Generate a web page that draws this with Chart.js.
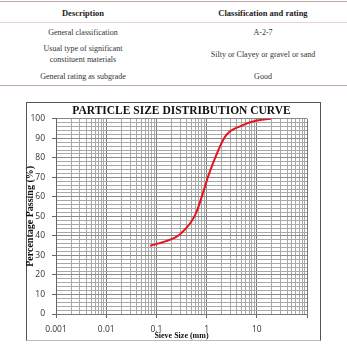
<!DOCTYPE html>
<html>
<head>
<meta charset="utf-8">
<script src="https://cdn.jsdelivr.net/npm/chart.js@4.4.1/dist/chart.umd.min.js"></script>
<style>
  html, body { margin:0; padding:0; background:#fff; width:347px; height:349px; overflow:hidden; }
  .t { position:absolute; font-family:"Liberation Serif", "Times New Roman", serif; font-size:8px; color:#333; text-align:center; line-height:11px; white-space:nowrap; }
  .b { font-weight:bold; color:#222; font-size:8.5px; }
  .line { position:absolute; left:0; width:347px; height:1px; }
  #box { position:absolute; left:26px; top:102px; width:293px; height:237px; border:1px solid #555; border-bottom-color:#bbb; }
  #wrap { position:absolute; left:0; top:95px; width:347px; height:254px; }
</style>
</head>
<body>
<div class="line" style="top:1px;background:#bfa9ab;"></div>
<div class="t b" style="left:23px;width:120px;top:8px;">Description</div>
<div class="t b" style="left:203px;width:120px;top:8px;">Classification and rating</div>
<div class="line" style="top:22px;background:#ead3d6;"></div>
<div class="t" style="left:23px;width:120px;top:27px;">General classification</div>
<div class="t" style="left:203px;width:120px;top:27px;">A-2-7</div>
<div class="t" style="left:23px;width:120px;top:43px;">Usual type of significant<br>constituent materials</div>
<div class="t" style="left:203px;width:120px;top:49px;">Silty or Clayey or gravel or sand</div>
<div class="t" style="left:23px;width:120px;top:71px;">General rating as subgrade</div>
<div class="t" style="left:203px;width:120px;top:71px;">Good</div>
<div class="line" style="top:85px;background:#bfa9ab;"></div>

<div id="box"></div>
<div id="wrap"><canvas id="c" width="347" height="254"></canvas></div>

<script>
const chartTitle = "PARTICLE SIZE DISTRIBUTION CURVE";
const xAxisTitle = "Sieve Size (mm)";
const yAxisTitle = "Percentage Passing (%)";
const sieveSizes = [0.075, 0.15, 0.3, 0.6, 1.18, 2.36, 4.75, 9.5, 19];
const percentPassing = [35, 37.2, 41, 51, 73.5, 91, 96.3, 99, 100];
const xDecades = [0.001, 0.01, 0.1, 1, 10, 100];
const xTickLabels = ["0.001", "0.01", "0.1", "1", "10"];
const yTickLabels = [0, 10, 20, 30, 40, 50, 60, 70, 80, 90, 100];

const isDecade = v => xDecades.some(d => Math.abs(v - d) / d < 1e-6);

new Chart(document.getElementById('c'), {
  type: 'line',
  data: {
    datasets: [{
      data: sieveSizes.map((s, i) => ({x: s, y: percentPassing[i]})),
      borderColor: '#e8141c',
      borderWidth: 2,
      pointRadius: 0,
      fill: false,
      cubicInterpolationMode: 'monotone'
    }]
  },
  options: {
    responsive: false,
    animation: false,
    layout: { padding: { left: 0, right: 40, top: 0, bottom: 0 } },
    plugins: {
      legend: { display: false },
      tooltip: { enabled: false },
      title: {
        display: true,
        text: chartTitle,
        fullSize: false,
        color: '#111',
        font: { family: "'Liberation Serif', serif", size: 11.5, weight: 'bold' },
        padding: { top: 9, bottom: 1 }
      }
    },
    scales: {
      x: {
        type: 'logarithmic',
        min: 0.001,
        max: 100,
        afterBuildTicks: (scale) => {
          const t = [];
          for (let d = 0; d < xDecades.length - 1; d++) {
            for (let k = 1; k <= 9; k++) t.push({ value: +(xDecades[d] * k).toPrecision(6) });
          }
          t.push({ value: xDecades[xDecades.length - 1] });
          scale.ticks = t;
        },
        afterFit: (scale) => { scale.height = 35; },
        ticks: {
          autoSkip: false,
          maxRotation: 0,
          padding: 6,
          color: '#333',
          font: { family: "'Open Sans', sans-serif", size: 8.5 },
          callback: function (value) {
            const i = xDecades.findIndex(d => Math.abs(value - d) / d < 1e-6);
            return (i >= 0 && i < xTickLabels.length) ? xTickLabels[i] : '';
          }
        },
        grid: {
          color: (ctx) => (ctx.tick && isDecade(ctx.tick.value)) ? '#7a7a7a' : '#a8a8a8',
          tickColor: (ctx) => (ctx.tick && isDecade(ctx.tick.value)) ? '#666' : 'rgba(0,0,0,0)',
          tickLength: 4,
          lineWidth: 1
        },
        border: { display: true, color: '#777' },
        title: {
          display: true,
          text: xAxisTitle,
          color: '#111',
          font: { family: "'Liberation Serif', serif", size: 8, weight: 'bold' },
          padding: { top: 0, bottom: 8 }
        }
      },
      y: {
        min: 0,
        max: 100,
        afterFit: (scale) => { scale.width = 56; },
        ticks: {
          stepSize: 2,
          autoSkip: false,
          padding: 7,
          color: '#333',
          font: { family: "'Open Sans', sans-serif", size: 8.5 },
          callback: function (value) { return yTickLabels.includes(value) ? String(value) : ''; }
        },
        grid: {
          color: (ctx) => (ctx.tick && ctx.tick.value % 10 === 0) ? '#8a8a8a' : '#a8a8a8',
          tickColor: (ctx) => (ctx.tick && ctx.tick.value % 10 === 0) ? '#666' : 'rgba(0,0,0,0)',
          tickLength: 4,
          lineWidth: 1
        },
        border: { display: true, color: '#666' },
        title: {
          display: true,
          text: yAxisTitle,
          color: '#111',
          font: { family: "'Liberation Serif', serif", size: 10, weight: 'bold' },
          padding: { top: 24, bottom: 0 }
        }
      }
    }
  }
});
</script>
</body>
</html>
